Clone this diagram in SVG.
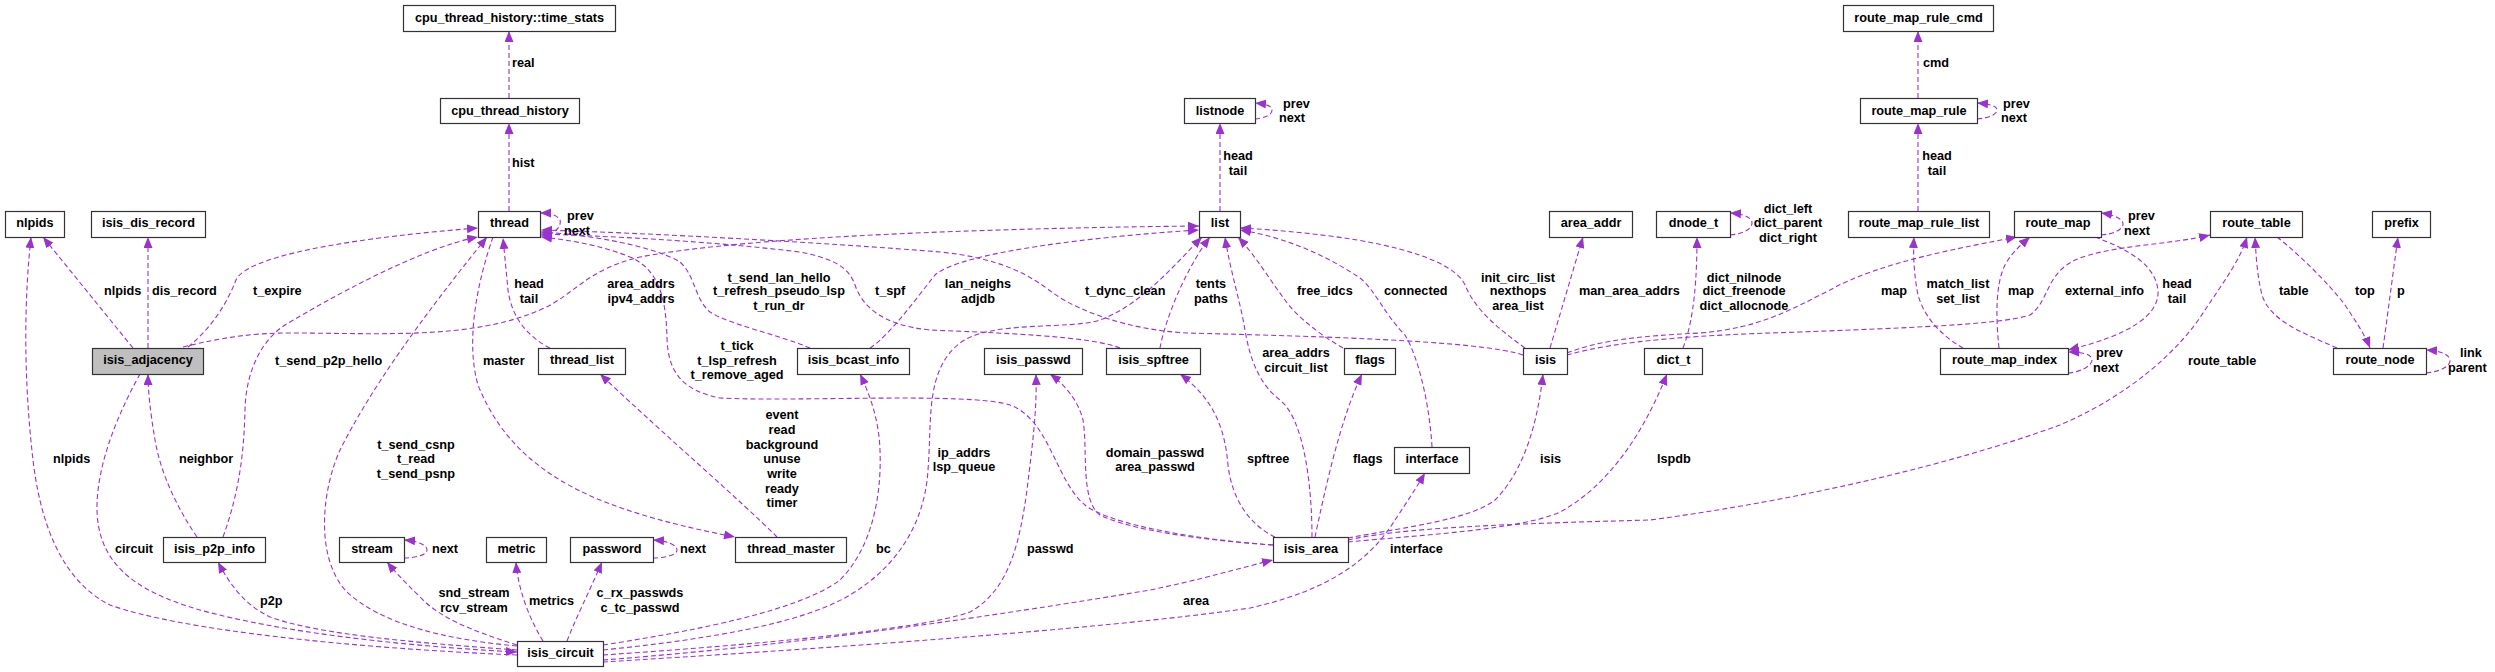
<svg xmlns="http://www.w3.org/2000/svg" width="2495" height="672" viewBox="0 0 2495 672">
<style>
.n rect{fill:#fff;stroke:#333;stroke-width:1.2}
.n text,.lb text{font-family:"Liberation Sans",Arial,sans-serif;font-weight:bold;font-size:12.7px;fill:#000}
.n text{text-anchor:middle}
.e path{fill:none;stroke:#9a32cd;stroke-width:1.1;stroke-dasharray:5,3;marker-end:url(#ah)}
.m{text-anchor:middle}
</style>
<defs>
<marker id="ah" markerUnits="userSpaceOnUse" markerWidth="13" markerHeight="10" refX="11" refY="4.5" orient="auto">
<path d="M0,0 L11,4.5 L0,9 Z" fill="#9a32cd" stroke="none"/>
</marker>
</defs>
<rect width="2495" height="672" fill="#fff"/>
<g id="edges" class="e">
<path d="M509,98 L509,31"/>
<path d="M509,211 L509,123"/>
<path d="M1220,211 L1220,123"/>
<path d="M1918,98 L1918,31"/>
<path d="M1918,211 L1918,123"/>
<path d="M2383,348 C2387,320 2392,280 2398,237"/>
<path d="M1550,348 L1583,237"/>
<path d="M133,348 L43,237"/>
<path d="M148,348 L148,237"/>
<path d="M188,347 C215,325 228,300 236,280 C250,250 400,234 478,228"/>
<path d="M223,537 C240,490 244,450 245,410 C246,370 262,340 285,325 C330,298 420,248 478,237"/>
<path d="M183,347 C220,338 250,333 290,333 C380,333 470,340 540,310 C575,295 585,270 640,257 C750,236 1000,228 1199,226"/>
<path d="M517,646 C450,640 380,625 345,590 C315,555 322,490 340,450 C370,390 420,320 487,237"/>
<path d="M493,237 C478,280 465,340 478,385 C500,440 540,475 600,500 C650,520 700,530 735,537"/>
<path d="M550,348 C530,338 512,320 508,290 L503,238"/>
<path d="M777,537 C740,500 670,440 600,374"/>
<path d="M810,348 C780,335 730,325 710,312 C695,300 695,275 680,262 C650,245 590,235 541,232"/>
<path d="M1273,545 C1200,540 1110,525 1085,505 C1055,480 1050,420 1010,405 C970,392 800,402 720,398 C680,390 668,370 667,338 C666,300 660,270 630,257 C600,245 570,240 541,237"/>
<path d="M1120,348 C1090,336 1000,333 930,330 C880,325 862,305 855,285 C848,265 830,258 800,252 C700,240 600,236 541,234"/>
<path d="M1523,355 C1480,340 1300,336 1187,333 C1130,330 1080,312 1053,293 C1030,275 1000,258 940,252 C830,243 650,233 541,230"/>
<path d="M870,348 C890,335 915,300 935,275 C960,252 1100,236 1199,230"/>
<path d="M1160,348 C1165,320 1185,270 1210,237"/>
<path d="M603,650 C700,640 800,625 850,595 C900,565 925,520 928,470 C932,420 925,370 960,343 C990,320 1070,330 1100,320 C1140,305 1170,270 1202,237"/>
<path d="M603,645 C700,630 800,610 840,580 C870,550 882,500 880,450 C879,420 870,395 860,374"/>
<path d="M603,655 C750,645 920,630 970,612 C1010,590 1020,540 1027,490 C1033,440 1037,410 1036,374"/>
<path d="M603,660 C800,645 1000,615 1150,590 C1200,580 1240,568 1273,560"/>
<path d="M603,662 C800,650 1100,630 1250,608 C1330,590 1370,560 1395,520 C1405,505 1415,490 1425,473"/>
<path d="M1273,545 C1200,540 1130,530 1100,515 C1080,500 1088,450 1083,420 C1078,400 1065,385 1050,374"/>
<path d="M1275,537 C1250,525 1232,500 1228,465 C1225,430 1215,400 1180,374"/>
<path d="M1315,537 C1325,490 1340,420 1362,374"/>
<path d="M1312,537 C1312,490 1305,420 1280,400 C1260,385 1250,360 1245,330 C1240,300 1230,270 1225,237"/>
<path d="M1343,348 C1320,335 1295,315 1285,300 C1270,280 1255,255 1238,237"/>
<path d="M1432,447 C1430,410 1420,360 1405,335 C1385,315 1375,290 1360,278 C1330,258 1290,238 1240,230"/>
<path d="M1525,348 C1500,330 1475,310 1465,285 C1455,262 1400,245 1330,236 C1290,231 1260,229 1240,228"/>
<path d="M1567,353 C1600,340 1640,336 1700,333 C1760,328 1790,310 1830,290 C1880,262 1960,248 2017,237"/>
<path d="M1567,355 C1620,340 1700,335 1800,332 C1900,328 2000,325 2030,315 C2050,300 2045,275 2075,260 C2110,245 2170,245 2210,235"/>
<path d="M1999,348 C1996,320 1995,285 2005,265 C2012,252 2022,244 2030,237"/>
<path d="M1963,348 C1945,338 1925,320 1918,295 C1914,275 1913,255 1914,237"/>
<path d="M2095,237 C2130,250 2155,265 2158,290 C2160,315 2130,335 2068,350"/>
<path d="M1348,540 C1400,528 1500,524 1650,520 C1800,500 1950,465 2060,425 C2130,395 2180,350 2205,310 C2225,280 2240,260 2247,237"/>
<path d="M1348,542 C1420,535 1520,530 1560,512 C1610,485 1645,430 1667,374"/>
<path d="M1348,538 C1400,528 1470,520 1495,500 C1525,470 1538,420 1543,374"/>
<path d="M1683,348 C1690,330 1697,300 1697,237"/>
<path d="M2337,348 C2300,332 2270,320 2262,295 C2257,275 2256,255 2255,237"/>
<path d="M2277,237 C2300,255 2330,285 2345,305 C2355,320 2365,335 2370,348"/>
<path d="M140,374 C120,410 98,460 97,505 C96,560 130,590 200,610 C280,632 400,646 517,652"/>
<path d="M197,537 C175,505 160,470 155,440 C150,410 148,390 148,374"/>
<path d="M517,650 C420,643 320,635 270,617 C245,605 230,585 218,562"/>
<path d="M517,655 C350,648 180,630 110,605 C60,580 40,520 33,460 C26,400 22,320 31,237"/>
<path d="M517,645 C470,630 440,618 420,597 C405,582 395,572 387,562"/>
<path d="M543,641 C530,620 518,590 516,562"/>
<path d="M567,641 C575,620 590,590 602,562"/>
<path d="M540,236 C556,235 562,225 560,220 C557,215 550,213 540,213"/>
<path d="M1255,119 C1265,118 1272,115 1272,110 C1272,106 1266,104 1255,103"/>
<path d="M1977,119 C1990,118 1997,114 1997,110 C1997,106 1990,104 1977,103"/>
<path d="M1730,235 C1745,234 1752,228 1752,223 C1752,218 1745,214 1730,213"/>
<path d="M2101,235 C2115,234 2123,229 2123,224 C2123,219 2115,215 2101,213"/>
<path d="M2068,373 C2082,372 2092,365 2092,360 C2092,355 2085,352 2068,352"/>
<path d="M2426,373 C2440,372 2450,366 2450,361 C2450,355 2442,351 2426,350"/>
<path d="M404,558 C415,558 427,555 427,550 C427,545 418,541 404,540"/>
<path d="M653,558 C665,558 677,555 677,550 C677,545 668,541 653,540"/>
</g>
<g id="labels" class="lb">
<text x="512" y="66.5">real</text>
<text x="512" y="166.5">hist</text>
<text x="1923" y="66.5">cmd</text>
<text x="104" y="294.5">nlpids</text>
<text x="152" y="294.5">dis_record</text>
<text x="253" y="294.5">t_expire</text>
<text x="275" y="364.5">t_send_p2p_hello</text>
<text x="875" y="294.5">t_spf</text>
<text x="1085" y="294.5">t_dync_clean</text>
<text x="1297" y="294.5">free_idcs</text>
<text x="1384" y="294.5">connected</text>
<text x="1579" y="294.5">man_area_addrs</text>
<text x="1881" y="294.5">map</text>
<text x="2008" y="294.5">map</text>
<text x="2065" y="294.5">external_info</text>
<text x="2279" y="294.5">table</text>
<text x="2355" y="294.5">top</text>
<text x="2397" y="294.5">p</text>
<text x="2188" y="364.5">route_table</text>
<text x="483" y="364.5">master</text>
<text x="876" y="552.5">bc</text>
<text x="1027" y="552.5">passwd</text>
<text x="1183" y="604.5">area</text>
<text x="1247" y="462.5">spftree</text>
<text x="1353" y="462.5">flags</text>
<text x="1540" y="462.5">isis</text>
<text x="1390" y="552.5">interface</text>
<text x="1657" y="462.5">lspdb</text>
<text x="53" y="462.5">nlpids</text>
<text x="115" y="552.5">circuit</text>
<text x="179" y="462.5">neighbor</text>
<text x="260" y="604.5">p2p</text>
<text x="529" y="604.5">metrics</text>
<text x="432" y="552.5">next</text>
<text x="680" y="552.5">next</text>
<text x="1283" y="107.5">prev</text>
<text x="1279" y="121.5">next</text>
<text x="567" y="219.5">prev</text>
<text x="564" y="234.5">next</text>
<text x="2003" y="107.5">prev</text>
<text x="2001" y="121.5">next</text>
<text x="2128" y="219.5">prev</text>
<text x="2124" y="234.5">next</text>
<text x="2096" y="356.5">prev</text>
<text x="2093" y="371.5">next</text>
<text x="2460" y="356.5">link</text>
<text x="2448" y="371.5">parent</text>
<text class="m" x="1788" y="212.5">dict_left</text>
<text class="m" x="1788" y="226.5">dict_parent</text>
<text class="m" x="1788" y="241.5">dict_right</text>
<text class="m" x="1238" y="159.5">head</text>
<text class="m" x="1238" y="174.5">tail</text>
<text class="m" x="1937" y="159.5">head</text>
<text class="m" x="1937" y="174.5">tail</text>
<text class="m" x="641" y="287.5">area_addrs</text>
<text class="m" x="641" y="302.5">ipv4_addrs</text>
<text class="m" x="529" y="287.5">head</text>
<text class="m" x="529" y="302.5">tail</text>
<text class="m" x="779" y="281.5">t_send_lan_hello</text>
<text class="m" x="779" y="294.5">t_refresh_pseudo_lsp</text>
<text class="m" x="779" y="309.5">t_run_dr</text>
<text class="m" x="978" y="287.5">lan_neighs</text>
<text class="m" x="978" y="302.5">adjdb</text>
<text class="m" x="1211" y="287.5">tents</text>
<text class="m" x="1211" y="302.5">paths</text>
<text class="m" x="1518" y="281.5">init_circ_list</text>
<text class="m" x="1518" y="294.5">nexthops</text>
<text class="m" x="1518" y="309.5">area_list</text>
<text class="m" x="1744" y="281.5">dict_nilnode</text>
<text class="m" x="1744" y="294.5">dict_freenode</text>
<text class="m" x="1744" y="309.5">dict_allocnode</text>
<text class="m" x="1958" y="287.5">match_list</text>
<text class="m" x="1958" y="302.5">set_list</text>
<text class="m" x="2177" y="287.5">head</text>
<text class="m" x="2177" y="302.5">tail</text>
<text class="m" x="737" y="349.5">t_tick</text>
<text class="m" x="737" y="364.5">t_lsp_refresh</text>
<text class="m" x="737" y="378.5">t_remove_aged</text>
<text class="m" x="782" y="418.5">event</text>
<text class="m" x="782" y="433.5">read</text>
<text class="m" x="782" y="448.5">background</text>
<text class="m" x="782" y="462.5">unuse</text>
<text class="m" x="782" y="477.5">write</text>
<text class="m" x="782" y="492.5">ready</text>
<text class="m" x="782" y="506.5">timer</text>
<text class="m" x="964" y="456.5">ip_addrs</text>
<text class="m" x="964" y="470.5">lsp_queue</text>
<text class="m" x="1155" y="456.5">domain_passwd</text>
<text class="m" x="1155" y="470.5">area_passwd</text>
<text class="m" x="1296" y="356.5">area_addrs</text>
<text class="m" x="1296" y="371.5">circuit_list</text>
<text class="m" x="416" y="448.5">t_send_csnp</text>
<text class="m" x="416" y="462.5">t_read</text>
<text class="m" x="416" y="477.5">t_send_psnp</text>
<text class="m" x="474" y="596.5">snd_stream</text>
<text class="m" x="474" y="611.5">rcv_stream</text>
<text class="m" x="640" y="596.5">c_rx_passwds</text>
<text class="m" x="640" y="611.5">c_tc_passwd</text>
</g>
<g id="n_time_stats" class="n"><rect x="403.5" y="5.5" width="212" height="26"/><text x="509.5" y="22">cpu_thread_history::time_stats</text></g>
<g id="n_cpu_thread_history" class="n"><rect x="440.5" y="98.5" width="139" height="25"/><text x="510" y="115">cpu_thread_history</text></g>
<g id="n_listnode" class="n"><rect x="1184.5" y="98.5" width="71" height="25"/><text x="1220" y="115">listnode</text></g>
<g id="n_route_map_rule_cmd" class="n"><rect x="1843.5" y="5.5" width="150" height="26"/><text x="1918.5" y="22">route_map_rule_cmd</text></g>
<g id="n_route_map_rule" class="n"><rect x="1860.5" y="98.5" width="117" height="25"/><text x="1919" y="115">route_map_rule</text></g>
<g id="n_nlpids" class="n"><rect x="5.5" y="211.5" width="59" height="26"/><text x="35" y="227">nlpids</text></g>
<g id="n_isis_dis_record" class="n"><rect x="91.5" y="211.5" width="114" height="26"/><text x="148.5" y="227">isis_dis_record</text></g>
<g id="n_thread" class="n"><rect x="478.5" y="211.5" width="62" height="26"/><text x="509.5" y="227">thread</text></g>
<g id="n_list" class="n"><rect x="1199.5" y="211.5" width="41" height="26"/><text x="1220" y="227">list</text></g>
<g id="n_area_addr" class="n"><rect x="1549.5" y="211.5" width="83" height="26"/><text x="1591" y="227">area_addr</text></g>
<g id="n_dnode_t" class="n"><rect x="1656.5" y="211.5" width="74" height="26"/><text x="1693.5" y="227">dnode_t</text></g>
<g id="n_route_map_rule_list" class="n"><rect x="1848.5" y="211.5" width="141" height="26"/><text x="1919" y="227">route_map_rule_list</text></g>
<g id="n_route_map" class="n"><rect x="2014.5" y="211.5" width="87" height="26"/><text x="2058" y="227">route_map</text></g>
<g id="n_route_table" class="n"><rect x="2210.5" y="211.5" width="92" height="26"/><text x="2256.5" y="227">route_table</text></g>
<g id="n_prefix" class="n"><rect x="2372.5" y="211.5" width="58" height="26"/><text x="2401.5" y="227">prefix</text></g>
<g id="n_isis_adjacency" class="n"><rect x="92.5" y="348.5" width="111" height="26" style="fill:#bfbfbf"/><text x="148" y="364">isis_adjacency</text></g>
<g id="n_thread_list" class="n"><rect x="538.5" y="348.5" width="87" height="26"/><text x="582" y="364">thread_list</text></g>
<g id="n_isis_bcast_info" class="n"><rect x="797.5" y="348.5" width="112" height="26"/><text x="853.5" y="364">isis_bcast_info</text></g>
<g id="n_isis_passwd" class="n"><rect x="984.5" y="348.5" width="98" height="26"/><text x="1033.5" y="364">isis_passwd</text></g>
<g id="n_isis_spftree" class="n"><rect x="1106.5" y="348.5" width="94" height="26"/><text x="1153.5" y="364">isis_spftree</text></g>
<g id="n_flags" class="n"><rect x="1344.5" y="348.5" width="51" height="26"/><text x="1370" y="364">flags</text></g>
<g id="n_isis" class="n"><rect x="1523.5" y="348.5" width="44" height="26"/><text x="1545.5" y="364">isis</text></g>
<g id="n_dict_t" class="n"><rect x="1644.5" y="348.5" width="58" height="26"/><text x="1673.5" y="364">dict_t</text></g>
<g id="n_route_map_index" class="n"><rect x="1940.5" y="348.5" width="128" height="26"/><text x="2004.5" y="364">route_map_index</text></g>
<g id="n_route_node" class="n"><rect x="2333.5" y="348.5" width="93" height="26"/><text x="2380" y="364">route_node</text></g>
<g id="n_interface" class="n"><rect x="1394.5" y="447.5" width="75" height="26"/><text x="1432" y="463">interface</text></g>
<g id="n_isis_p2p_info" class="n"><rect x="163.5" y="537.5" width="102" height="25"/><text x="214.5" y="553">isis_p2p_info</text></g>
<g id="n_stream" class="n"><rect x="339.5" y="537.5" width="65" height="25"/><text x="372" y="553">stream</text></g>
<g id="n_metric" class="n"><rect x="486.5" y="537.5" width="60" height="25"/><text x="516.5" y="553">metric</text></g>
<g id="n_password" class="n"><rect x="570.5" y="537.5" width="83" height="25"/><text x="612" y="553">password</text></g>
<g id="n_thread_master" class="n"><rect x="735.5" y="537.5" width="111" height="25"/><text x="791" y="553">thread_master</text></g>
<g id="n_isis_area" class="n"><rect x="1273.5" y="537.5" width="75" height="25"/><text x="1311" y="553">isis_area</text></g>
<g id="n_isis_circuit" class="n"><rect x="517.5" y="641.5" width="86" height="25"/><text x="560.5" y="657">isis_circuit</text></g>
</svg>
